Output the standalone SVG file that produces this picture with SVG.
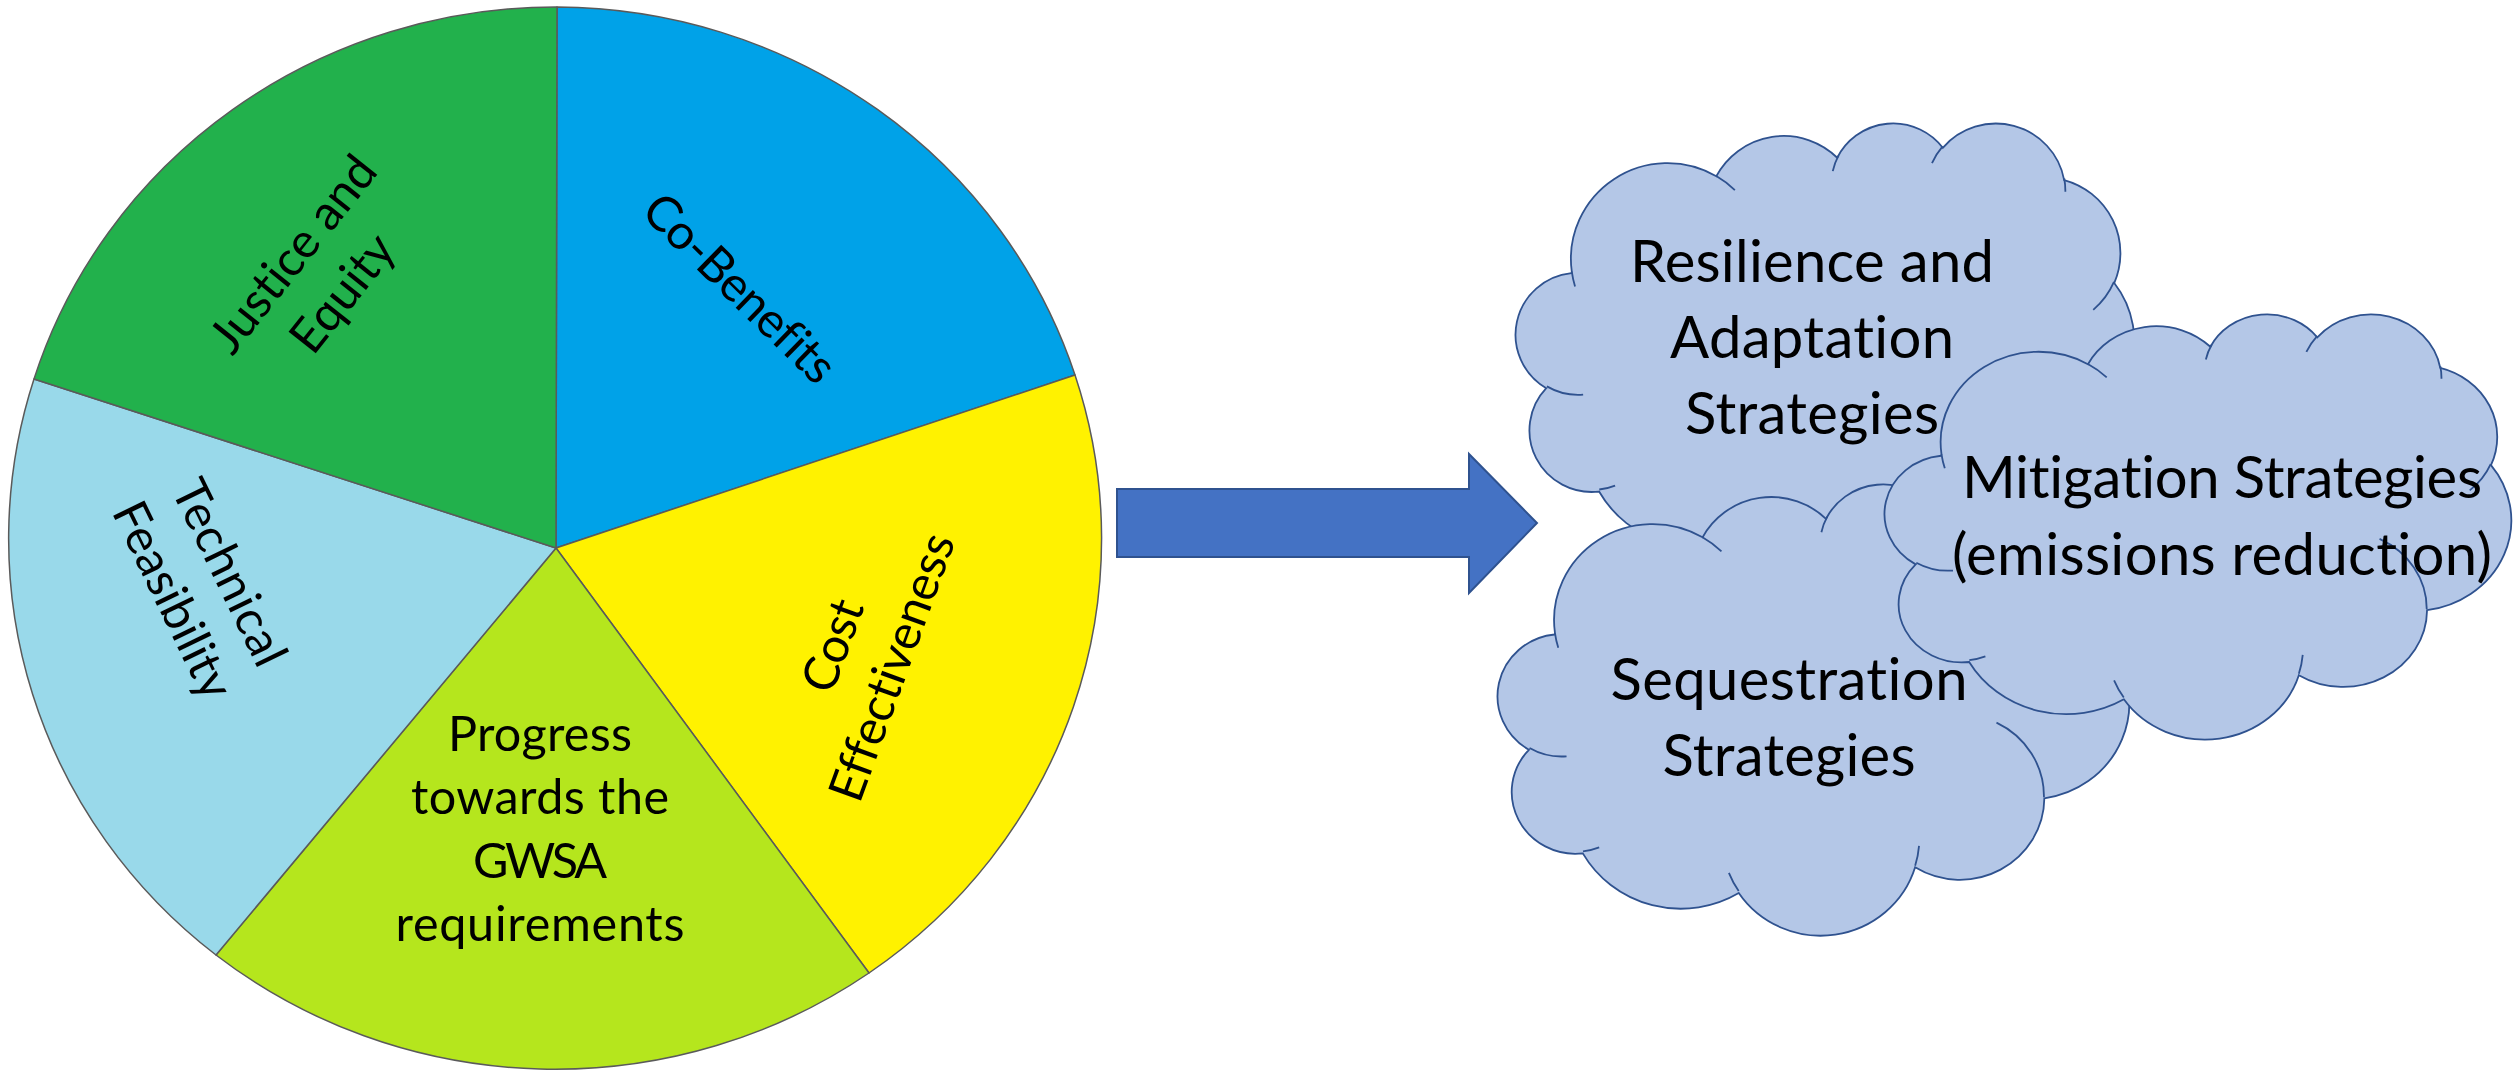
<svg xmlns="http://www.w3.org/2000/svg" width="2520" height="1073" viewBox="0 0 2520 1073">
<style>
.sl{stroke:#5a5a5a;stroke-width:1.5;stroke-linejoin:round}
.pt{font-family:Lato,"Liberation Sans",sans-serif;font-size:48.5px;fill:#000;text-anchor:middle;font-variant-ligatures:none;font-feature-settings:"liga" 0,"clig" 0}
.ct{font-family:Lato,"Liberation Sans",sans-serif;font-size:58px;fill:#000;text-anchor:middle;font-variant-ligatures:none;font-feature-settings:"liga" 0,"clig" 0}
.cf{fill:#B4C7E7;stroke:#2F528F;stroke-width:1.8}
.ci{fill:none;stroke:#2F528F;stroke-width:1.8}
.arrow{fill:#4472C4;stroke:#2F528F;stroke-width:2}
</style>
<defs>
<path id="cloud" class="cf" vector-effect="non-scaling-stroke" d="M3900,14370 A6753,9190 0 0 1 14005,5202 A5333,7267 0 0 1 22457,3433 A4365,5945 0 0 1 29832,2479 A4857,6595 0 0 1 38318,5574 A5333,7273 0 0 1 41818,15458 A6775,9220 0 0 1 37406,30205 A5785,7867 0 0 1 28558,36815 A6752,9215 0 0 1 16484,39270 A7720,10543 0 0 1 5808,35475 A4360,5918 0 0 1 2116,25554 A4345,5945 0 0 1 3867,14510 Z"/>
<path id="cloudIn" class="ci" vector-effect="non-scaling-stroke" d="M4693,26177 A4345,5945 0 0 1 2159,25380 M6928,34899 A4360,5918 0 0 1 5820,35280 M16478,39090 A6752,9215 0 0 1 15808,37345 M28827,34751 A6752,9215 0 0 1 28560,36660 M34129,22954 A5785,7867 0 0 1 37380,30090 M41798,15354 A5333,7273 0 0 1 40350,18030 M38324,5426 A4857,6595 0 0 1 38400,6690 M29078,3952 A4857,6595 0 0 1 29820,2340 M22141,4720 A4365,5945 0 0 1 22540,3224 M14000,5192 A6753,9190 0 0 1 15300,6541 M4127,15789 A6753,9190 0 0 1 3900,14371"/>
</defs>
<rect width="2520" height="1073" fill="#ffffff"/>
<g id="pie">
<g id="slice-co-benefits">
<path class="sl" fill="#00A2E8" d="M556,548 L557,7 A547,531 0 0 1 1075,375 Z"/>
<text class="pt" transform="translate(740,288) rotate(44.3)" y="17" textLength="248">Co-Benefits</text>
</g>
<g id="slice-cost">
<path class="sl" fill="#FFF200" d="M556,548 L1075,375 A547,531 0 0 1 869,973 Z"/>
<g transform="translate(861.5,656) rotate(-70)">
<text class="pt" y="-14" textLength="95">Cost</text>
<text class="pt" y="49" textLength="281">Effectiveness</text>
</g>
</g>
<g id="slice-progress">
<path class="sl" fill="#B5E61D" d="M556,548 L869,973 A547,531 0 0 1 216,955 Z"/>
<text class="pt" x="540" y="751" textLength="184">Progress</text>
<text class="pt" x="540" y="814" textLength="258">towards the</text>
<text class="pt" x="540" y="878" textLength="134">GWSA</text>
<text class="pt" x="540" y="941" textLength="289">requirements</text>
</g>
<g id="slice-technical">
<path class="sl" fill="#99D9EA" d="M556,548 L216,955 A547,531 0 0 1 34,379 Z"/>
<g transform="translate(202,586) rotate(64)">
<text class="pt" y="-14" textLength="201">Technical</text>
<text class="pt" y="49" textLength="213">Feasibility</text>
</g>
</g>
<g id="slice-justice">
<path class="sl" fill="#22B14C" d="M556,548 L34,379 A547,531 0 0 1 557,7 Z"/>
<g transform="translate(317,273) rotate(-51.5)">
<text class="pt" y="-14" textLength="236">Justice and</text>
<text class="pt" y="49" textLength="136">Equity</text>
</g>
</g>
</g>
<g id="connectors">
<polygon class="arrow" points="1117,489 1469,489 1469,454 1537,523 1469,593 1469,557 1117,557"/>
</g>
<g id="cloud-resilience">
<use href="#cloud" transform="translate(1516,122) scale(0.014306,0.010417)"/>
<use href="#cloudIn" transform="translate(1516,122) scale(0.014306,0.010417)"/>
<text class="ct" x="1812" y="282" textLength="364">Resilience and</text>
<text class="ct" x="1812" y="358" textLength="284">Adaptation</text>
<text class="ct" x="1812" y="434" textLength="254">Strategies</text>
</g>
<g id="cloud-sequestration">
<use href="#cloud" transform="translate(1498,483) scale(0.014606,0.01044)"/>
<use href="#cloudIn" transform="translate(1498,483) scale(0.014606,0.01044)"/>
<text class="ct" x="1789" y="700" textLength="357">Sequestration</text>
<text class="ct" x="1789" y="776" textLength="253">Strategies</text>
</g>
<g id="cloud-mitigation">
<use href="#cloud" transform="translate(1885,313) scale(0.014491,0.009838)"/>
<use href="#cloudIn" transform="translate(1885,313) scale(0.014491,0.009838)"/>
<text class="ct" x="2222" y="498" textLength="520">Mitigation Strategies</text>
<text class="ct" x="2222" y="575" textLength="540">(emissions reduction)</text>
</g>
</svg>
